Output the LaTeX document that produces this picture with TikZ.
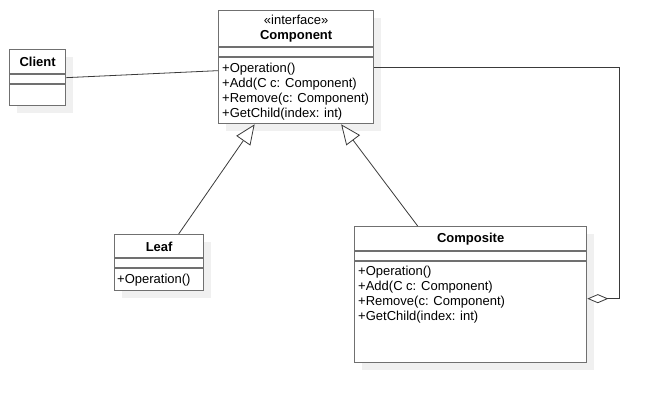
\documentclass[tikz,border=0pt]{standalone}
\usepackage{fontspec}
\setmainfont{Liberation Sans}
\usetikzlibrary{arrows.meta,shadows}

\definecolor{boxgray}{HTML}{707070}
\definecolor{linegray}{HTML}{3A3A3A}
\definecolor{shadowgray}{HTML}{F0F0F0}

\begin{document}
\begin{tikzpicture}[x=1pt,y=-1pt]
    % UML class diagram: Composite pattern.
    % Boxes are placed at their top-left corners, y runs downward.

    \tikzset{
      classbox/.style={draw=boxgray, line width=1.3pt, fill=white, inner sep=0pt, anchor=north west,
        drop shadow={shadow xshift=7pt, shadow yshift=-7pt, fill=shadowgray, opacity=1}},
      divider/.style={draw=boxgray, line width=1.3pt},
      title/.style={font=\fontsize{13}{15}\selectfont\bfseries, inner sep=0pt, anchor=base},
      members/.style={font=\fontsize{13}{15}\selectfont, align=left, inner sep=0pt, anchor=north west},
      link/.style={draw=linegray, line width=0.8pt},
      inherit/.style={link, -{Triangle[open, length=20pt, width=17pt, fill=white]}},
      aggregate/.style={link, {Diamond[open, length=21pt, width=9pt, fill=white]}-}
    }

    \useasboundingbox (0,0) rectangle (659,402);

    % --- Component (interface)
    \node[classbox, minimum width=155pt, minimum height=113pt] (component) at (218,10) {};
    \draw[divider] ([yshift=-37pt]component.north west) -- ([yshift=-37pt]component.north east);
    \draw[divider] ([yshift=-47pt]component.north west) -- ([yshift=-47pt]component.north east);
    \node[title, font=\fontsize{13}{15}\selectfont] (stereotype) at ([shift={(0,14)}]component.north) {«interface»};
    \node[title] (componentname) at ([shift={(0,29.5)}]component.north) {Component};
    \node[members] (componentops) at ([shift={(4,51.5)}]component.north west)
      {\strut+Operation()\\+Add(C c: Component)\\+Remove(c: Component)\\+GetChild(index: int)};

    % --- Client
    \node[classbox, minimum width=56pt, minimum height=56pt] (client) at (9,49) {};
    \draw[divider] ([yshift=-25pt]client.north west) -- ([yshift=-25pt]client.north east);
    \draw[divider] ([yshift=-35pt]client.north west) -- ([yshift=-35pt]client.north east);
    \node[title] (clientname) at ([shift={(0,17.5)}]client.north) {Client};

    % --- Leaf
    \node[classbox, minimum width=89pt, minimum height=56pt] (leaf) at (114,234) {};
    \draw[divider] ([yshift=-24pt]leaf.north west) -- ([yshift=-24pt]leaf.north east);
    \draw[divider] ([yshift=-34pt]leaf.north west) -- ([yshift=-34pt]leaf.north east);
    \node[title] (leafname) at ([shift={(0,17)}]leaf.north) {Leaf};
    \node[members] (leafops) at ([shift={(3,38.5)}]leaf.north west) {\strut+Operation()};

    % --- Composite
    \node[classbox, minimum width=232pt, minimum height=136pt] (composite) at (354,226) {};
    \draw[divider] ([yshift=-25pt]composite.north west) -- ([yshift=-25pt]composite.north east);
    \draw[divider] ([yshift=-35pt]composite.north west) -- ([yshift=-35pt]composite.north east);
    \node[title] (compositename) at ([shift={(0,16.7)}]composite.north) {Composite};
    \node[members] (compositeops) at ([shift={(4,38.5)}]composite.north west)
      {\strut+Operation()\\+Add(C c: Component)\\+Remove(c: Component)\\+GetChild(index: int)};

    % --- connectors
    \draw[link] ([yshift=0pt]client.east) -- ([yshift=-3.5pt]component.west);
    \draw[inherit] ([xshift=19.5pt]leaf.north) -- ([xshift=-41.5pt]component.south);
    \draw[inherit] ([xshift=-53pt]composite.north) -- ([xshift=45pt]component.south);
    \draw[aggregate] ([yshift=-4pt]composite.east) -- ++(32,0) |- (component.east);
  \end{tikzpicture}
\end{document}
